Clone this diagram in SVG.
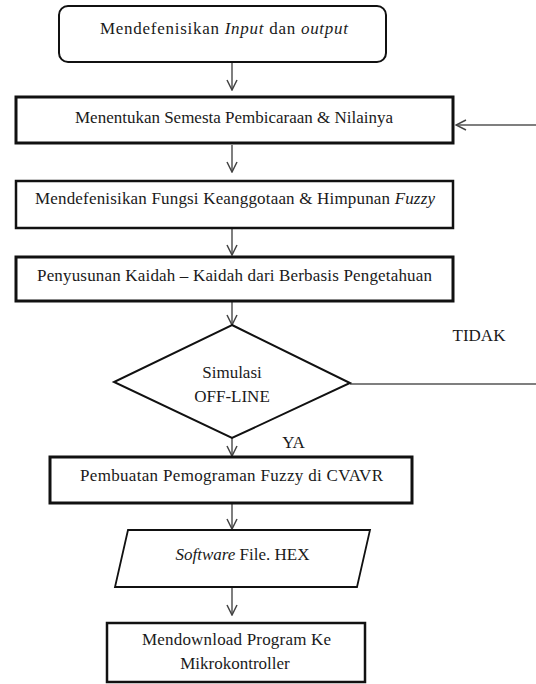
<svg xmlns="http://www.w3.org/2000/svg" width="536" height="684" viewBox="0 0 536 684" font-family="'Liberation Serif', 'DejaVu Serif', serif">
<style>
text{font-size:17px;fill:#1a1a1a;text-anchor:middle}
.box{fill:#fff;stroke:#111}
.thick{stroke-width:3}
.mid{stroke-width:2.5}
.conn{stroke:#555;stroke-width:1.5;fill:none}
</style>
<defs>
<marker id="ah" viewBox="0 0 12 12" refX="11" refY="6" markerWidth="12" markerHeight="12" markerUnits="userSpaceOnUse" orient="auto">
<path d="M1,1 L11,6 L1,11" fill="none" stroke="#444" stroke-width="1.5"/>
</marker>
</defs>
<rect width="536" height="684" fill="#fff"/>
<g id="connectors">
<line class="conn" x1="232" y1="63" x2="232" y2="90" marker-end="url(#ah)"/>
<line class="conn" x1="232" y1="145" x2="232" y2="172" marker-end="url(#ah)"/>
<line class="conn" x1="232" y1="229" x2="232" y2="255" marker-end="url(#ah)"/>
<line class="conn" x1="232" y1="302" x2="232" y2="325" marker-end="url(#ah)"/>
<line class="conn" x1="232" y1="438" x2="232" y2="456" marker-end="url(#ah)"/>
<line class="conn" x1="232" y1="504" x2="232" y2="529" marker-end="url(#ah)"/>
<line class="conn" x1="232" y1="588" x2="232" y2="615" marker-end="url(#ah)"/>
<line class="conn" x1="350" y1="384" x2="536" y2="384"/>
<line class="conn" x1="536" y1="125" x2="456" y2="125" marker-end="url(#ah)"/>
</g>
<g id="n1"><rect class="box" x="59" y="6" width="327" height="56" rx="9" stroke-width="2"/>
<text x="224" y="34" textLength="248" lengthAdjust="spacing">Mendefenisikan <tspan font-style="italic">Input</tspan> dan <tspan font-style="italic">output</tspan></text></g>
<g id="n2"><rect class="box thick" x="16" y="97" width="437" height="46"/>
<text x="234" y="123" textLength="318" lengthAdjust="spacing">Menentukan Semesta Pembicaraan &amp; Nilainya</text></g>
<g id="n3"><rect class="box mid" x="16" y="181" width="437" height="47"/>
<text x="235" y="204" textLength="400" lengthAdjust="spacing">Mendefenisikan Fungsi Keanggotaan &amp; Himpunan <tspan font-style="italic">Fuzzy</tspan></text></g>
<g id="n4"><rect class="box thick" x="16" y="257" width="437" height="44"/>
<text x="234.5" y="281" textLength="395" lengthAdjust="spacing">Penyusunan Kaidah – Kaidah dari Berbasis Pengetahuan</text></g>
<g id="n5"><polygon class="box" points="232,325 350,383 232,438 114,382" stroke-width="2"/>
<text x="232" y="378">Simulasi</text><text x="232" y="402">OFF-LINE</text></g>
<text x="479" y="341">TIDAK</text>
<text x="293.5" y="448">YA</text>
<g id="n6"><rect class="box thick" x="50" y="457" width="362" height="46"/>
<text x="231.5" y="481" textLength="303" lengthAdjust="spacing">Pembuatan Pemograman Fuzzy di CVAVR</text></g>
<g id="n7"><polygon class="box" points="128,530 370,530 357,587 115,587" stroke-width="1.8"/>
<text x="242.5" y="560"><tspan font-style="italic">Software</tspan> File. HEX</text></g>
<g id="n8"><rect class="box mid" x="107" y="623" width="258" height="59"/>
<text x="236.5" y="645" textLength="189" lengthAdjust="spacing">Mendownload Program Ke</text><text x="235" y="669">Mikrokontroller</text></g>
</svg>
